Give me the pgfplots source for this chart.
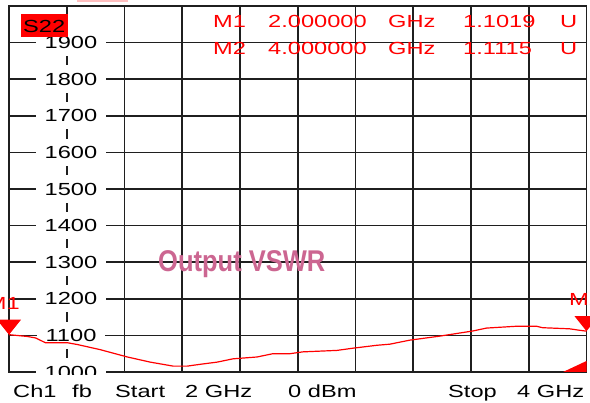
\documentclass[border=0pt]{standalone}
\usepackage{pgfplots}
\pgfplotsset{compat=1.18}
\usepackage{fontspec}
\setmainfont{Liberation Sans}
\newfontfamily\vna[FakeStretch=1.35]{Liberation Sans}
\newfontfamily\ovs[FakeStretch=0.85]{Liberation Sans}
\newcommand\vf{\vna\fontsize{17.5}{18}\selectfont}
\definecolor{vsw}{RGB}{204,102,145}
\pgfdeclareplotmark{vnatri}{%
  \pgfpathmoveto{\pgfqpoint{0pt}{0pt}}%
  \pgfpathlineto{\pgfqpoint{-12pt}{15pt}}%
  \pgfpathlineto{\pgfqpoint{12pt}{15pt}}%
  \pgfpathclose\pgfusepathqfill}
\begin{document}
\begin{tikzpicture}[x=1pt,y=1pt]
\begin{axis}[
  set layers,
  at={(9pt,31pt)}, anchor=south west,
  scale only axis, width=577.5pt, height=366pt,
  xmin=2, xmax=4, ymin=1000, ymax=2000,
  xtick={2,2.2,2.4,2.6,2.8,3,3.2,3.4,3.6,3.8,4},
  ytick={1000,1100,1200,1300,1400,1500,1600,1700,1800,1900},
  xticklabels={},
  yticklabel={\vf\pgfmathprintnumber[assume math mode=true,1000 sep={}]{\tick}},
  yticklabel style={anchor=center, xshift=62pt, fill=white, inner xsep=9pt, inner ysep=7.5pt},
  grid=major,
  major grid style={black!88, line width=1.6pt},
  axis line style={black!88, line width=1.7pt},
  major tick length=0pt,
  clip=false,
]
\addplot[red, line width=1.2pt] table {
x y
2.000 1102
2.064 1097
2.092 1093
2.126 1080
2.202 1080
2.237 1075
2.316 1061
2.410 1041
2.489 1027
2.569 1016
2.617 1016
2.662 1021
2.721 1027
2.776 1036
2.859 1041
2.914 1050
2.973 1050
3.018 1055
3.136 1059
3.191 1065
3.274 1073
3.319 1076
3.388 1087
3.492 1098
3.606 1112
3.654 1120
3.758 1125
3.827 1125
3.848 1121
3.941 1118
3.976 1114
4.000 1111.5
};
\addplot[red, only marks, mark=vnatri] coordinates {(2,1101.9) (4,1111.5)};
\end{axis}
\fill[red!25] (77,401) rectangle (128,403);
% clip bottom of the 1000 label
\fill[white] (30,0) rectangle (110,28);
% S22 box
\fill[red] (21,366) rectangle (68,389);
\node[anchor=base west, inner sep=0] at (23,370) {\vf S22};
% marker readouts
\begin{scope}[every node/.style={anchor=base west, inner sep=0, text=red}]
\node at (213,375) {\vf M1};
\node at (268,375) {\vf 2.000000};
\node at (388,375) {\vf GHz};
\node at (463,375) {\vf 1.1019};
\node at (560,375) {\vf U};
\node at (213,348) {\vf M2};
\node at (268,348) {\vf 4.000000};
\node at (388,348) {\vf GHz};
\node at (463,348) {\vf 1.1115};
\node at (560,348) {\vf U};
\node[anchor=base east] at (20,93) {\vf M1};
\node at (569,97) {\vf M2};
\end{scope}
\fill[red] (563,31) -- (586.5,31) -- (586.5,42) -- cycle;
% title
\node[anchor=base west, inner sep=0, text=vsw] at (158,131) {\ovs\bfseries\fontsize{30}{30}\selectfont Output VSWR};
% bottom status line
\begin{scope}[every node/.style={anchor=base west, inner sep=0}]
\node at (13,5) {\vf Ch1};
\node at (72,5) {\vf fb};
\node at (115,5) {\vf Start};
\node at (185,5) {\vf 2 GHz};
\node at (288,5) {\vf 0 dBm};
\node at (448,5) {\vf Stop};
\node at (517,5) {\vf 4 GHz};
\end{scope}
\pgfresetboundingbox
\useasboundingbox (0,0) rectangle (590,403);
\end{tikzpicture}
\end{document}
